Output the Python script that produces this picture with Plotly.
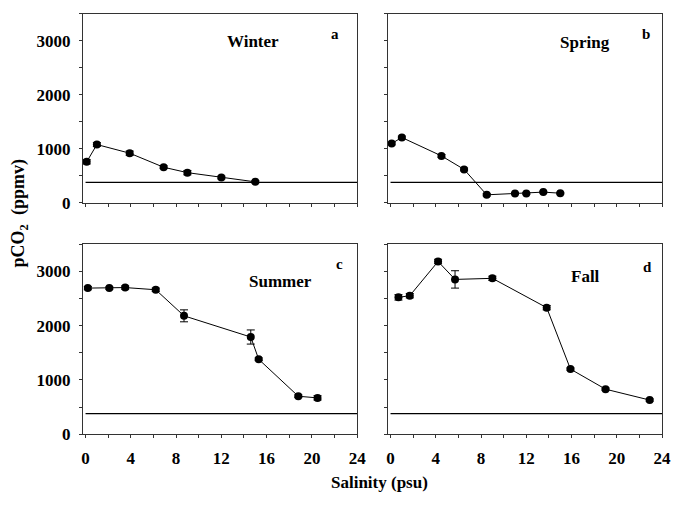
import plotly.graph_objects as go

# ---- data ----
winter_sal = [0.1, 1.0, 3.9, 6.9, 9.0, 12.0, 15.0]
winter_pco2 = [760, 1080, 920, 660, 560, 470, 390]
winter_err = [40, 35, 40, 25, 40, 25, 20]

spring_sal = [0.1, 1.0, 4.5, 6.5, 8.5, 11.0, 12.0, 13.5, 15.0]
spring_pco2 = [1100, 1210, 870, 620, 150, 175, 175, 200, 180]
spring_err = [25, 25, 25, 25, 20, 15, 15, 15, 15]

summer_sal = [0.2, 2.1, 3.5, 6.2, 8.7, 14.6, 15.3, 18.8, 20.5]
summer_pco2 = [2690, 2690, 2700, 2660, 2180, 1790, 1380, 700, 670]
summer_err = [30, 20, 30, 30, 110, 130, 25, 25, 40]

fall_sal = [0.7, 1.7, 4.2, 5.7, 9.0, 13.8, 15.9, 19.0, 22.9]
fall_pco2 = [2520, 2550, 3180, 2850, 2870, 2330, 1200, 830, 630]
fall_err = [50, 40, 40, 160, 40, 40, 20, 20, 20]

atm_sal = [0, 24]
atm_pco2 = [380, 380]

x_ticks = [0, 4, 8, 12, 16, 20, 24]
y_ticks = [0, 1000, 2000, 3000]

panels = [
    ("Winter", "a", winter_sal, winter_pco2, winter_err),
    ("Spring", "b", spring_sal, spring_pco2, spring_err),
    ("Summer", "c", summer_sal, summer_pco2, summer_err),
    ("Fall", "d", fall_sal, fall_pco2, fall_err),
]

W, H = 678, 508
FONT = "Liberation Serif"

# panel pixel boxes (left, right, top, bottom)
boxes = [
    (82.3, 361.0, 14, 207),
    (392.3, 671.0, 14, 207),
    (82.3, 361.0, 249, 443),
    (392.3, 671.0, 249, 443),
]
season_pos = [(255, 42), (593, 43), (283, 287), (593, 282)]
letter_pos = [(338, 35), (655, 35), (343, 269), (656, 272)]

fig = go.Figure()
for i, (season, letter, xs, ys, es) in enumerate(panels):
    n = "" if i == 0 else str(i + 1)
    xa, ya = "x" + n, "y" + n
    fig.add_trace(go.Scatter(
        x=atm_sal, y=atm_pco2, mode="lines", xaxis=xa, yaxis=ya,
        line=dict(color="black", width=1.2), showlegend=False, hoverinfo="skip"))
    fig.add_trace(go.Scatter(
        x=xs, y=ys, mode="lines+markers", xaxis=xa, yaxis=ya,
        line=dict(color="black", width=1),
        marker=dict(color="black", size=8),
        error_y=dict(type="data", array=es, visible=True, color="black",
                     thickness=1, width=4),
        showlegend=False))
    l, r, t, b = boxes[i]
    bottom_row = i >= 2
    left_col = i % 2 == 0
    axis_common = dict(showline=True, mirror=True, linecolor="#333", linewidth=1,
                       ticks="outside", ticklen=3, tickcolor="#333",
                       showgrid=False, zeroline=False, ticklabeloverflow="allow",
                       tickfont=dict(family=FONT, size=17, color="black", weight="bold"))
    fig.layout["xaxis" + n] = dict(
        domain=[l / W, r / W], anchor=ya, range=[-0.23, 24],
        tickvals=x_ticks, showticklabels=bottom_row, ticklabelstandoff=5,
        minor=dict(dtick=2, tick0=0, ticks="outside", ticklen=3, tickcolor="#333"),
        **axis_common)
    fig.layout["yaxis" + n] = dict(
        domain=[1 - b / H, 1 - t / H], anchor=xa, range=[0, 3500],
        tickvals=y_ticks, showticklabels=left_col, ticklabelstandoff=5,
        minor=dict(dtick=500, tick0=0, ticks="outside", ticklen=3, tickcolor="#333"),
        **axis_common)
    sx, sy = season_pos[i]
    fig.add_annotation(x=sx / W, y=1 - sy / H, xref="paper", yref="paper",
                       xanchor="center", yanchor="middle",
                       text="<b>%s</b>" % season, showarrow=False,
                       font=dict(family=FONT, size=17, color="black"))
    lx, ly = letter_pos[i]
    fig.add_annotation(x=lx / W, y=1 - ly / H, xref="paper", yref="paper",
                       xanchor="center", yanchor="middle",
                       text="<b>%s</b>" % letter, showarrow=False,
                       font=dict(family=FONT, size=15, color="black"))

fig.add_annotation(x=384 / W, y=1 - 492 / H, xref="paper", yref="paper",
                   xanchor="center", yanchor="middle",
                   text="<b>Salinity (psu)</b>", showarrow=False,
                   font=dict(family=FONT, size=17, color="black"))
fig.add_annotation(x=18 / W, y=1 - 218 / H, xref="paper", yref="paper",
                   xanchor="center", yanchor="middle",
                   text="<b>pCO<sub>2</sub>  (ppmv)</b>", showarrow=False, textangle=-90,
                   font=dict(family=FONT, size=18, color="black"))

fig.update_layout(width=W, height=H, margin=dict(l=0, r=0, t=0, b=0),
                  plot_bgcolor="white", paper_bgcolor="white", showlegend=False)

post = (
    "document.body.style.margin='0';"
    "document.body.style.overflow='hidden';"
    "var gd=document.getElementById('{plot_id}');"
    "var w=window.innerWidth, h=window.innerHeight;"
    "if(w>0 && h>0){gd.style.width=w+'px';gd.style.height=h+'px';"
    "Plotly.relayout(gd,{width:w,height:h});}"
)
fig.write_html("out.html", config={"displayModeBar": False}, post_script=post)
